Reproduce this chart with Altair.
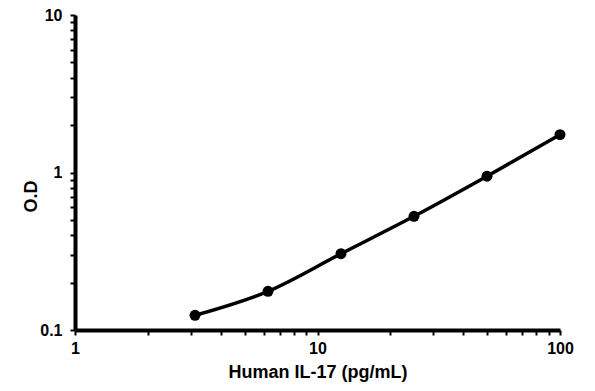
import altair as alt
import pandas as pd

conc = [3.125, 6.25, 12.5, 25, 50, 100]
od = [0.124, 0.176, 0.305, 0.527, 0.947, 1.74]

x_ticks = [1, 2, 3, 4, 5, 6, 7, 8, 9, 10, 20, 30, 40, 50, 60, 70, 80, 90, 100]
y_ticks = [0.1, 0.2, 0.3, 0.4, 0.5, 0.6, 0.7, 0.8, 0.9, 1, 2, 3, 4, 5, 6, 7, 8, 9, 10]

df = pd.DataFrame({"conc": conc, "od": od})

font = "Liberation Sans"

x_enc = alt.X(
    "conc:Q",
    scale=alt.Scale(type="log", domain=[1, 100]),
    axis=alt.Axis(
        title="Human IL-17 (pg/mL)",
        values=x_ticks,
        labelExpr="(datum.value == 1 || datum.value == 10 || datum.value == 100) ? format(datum.value, '~g') : ''",
        grid=False,
        domainColor="black",
        domainWidth=4,
        tickColor="black",
        tickWidth=2,
        tickSize=5,
        labelFont=font,
        labelFontSize=16,
        labelFontWeight="bold",
        labelColor="black",
        labelPadding=5,
        titleFont=font,
        titleFontSize=18,
        titleFontWeight="bold",
        titleColor="black",
        titlePadding=7,
        labelFlush=False,
    ),
)
y_enc = alt.Y(
    "od:Q",
    scale=alt.Scale(type="log", domain=[0.1, 10]),
    axis=alt.Axis(
        title="O.D",
        values=y_ticks,
        labelExpr="(abs(datum.value - 0.1) < 1e-9 || datum.value == 1 || datum.value == 10) ? format(datum.value, '~g') : ''",
        grid=False,
        domainColor="black",
        domainWidth=4,
        tickColor="black",
        tickWidth=2,
        tickSize=5,
        labelFont=font,
        labelFontSize=16,
        labelFontWeight="bold",
        labelColor="black",
        labelPadding=8,
        titleFont=font,
        titleFontSize=18,
        titleFontWeight="bold",
        titleColor="black",
        titleX=-39,
        titleY=181,
        titleBaseline="alphabetic",
        labelFlush=False,
    ),
)

line = alt.Chart(df).mark_line(color="black", strokeWidth=3.5, interpolate="monotone").encode(x=x_enc, y=y_enc)
pts = alt.Chart(df).mark_point(color="black", filled=True, size=120, opacity=1).encode(x="conc:Q", y="od:Q")

chart = (
    alt.layer(line, pts)
    .properties(
        width=485,
        height=315,
        autosize=alt.AutoSizeParams(type="none"),
        padding={"left": 67, "top": 7, "right": 27, "bottom": 53},
        background="white",
    )
    .configure_view(stroke=None)
)

chart.save("out.html", embed_options={"renderer": "svg", "actions": False})
